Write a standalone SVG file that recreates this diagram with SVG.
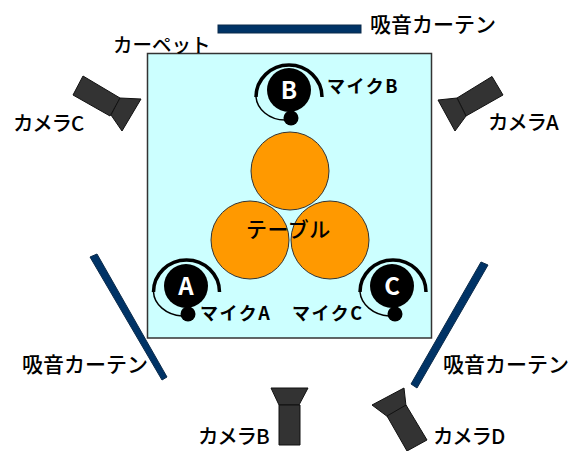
<svg xmlns="http://www.w3.org/2000/svg" width="568" height="451" viewBox="0 0 568 451">
<style>
text{font-family:"Noto Sans CJK JP","Noto Sans",sans-serif;fill:#000}
.l{font-size:21px;font-weight:500}
.c{font-size:19.500px;font-weight:500}
.k{font-size:20.500px;font-weight:500;letter-spacing:-1.200px}
.m{font-size:18px;font-weight:700;letter-spacing:1.500px}
.big{font-size:24px;font-weight:700;fill:#fff;text-anchor:middle}
.cam path{fill:#333;stroke:#111;stroke-width:1}
.cur{fill:#003366;stroke:#0a2a4a;stroke-width:1}
.tb{fill:#ff9900;stroke:#333;stroke-width:1}
.arc{fill:none;stroke:#000;stroke-width:3.500}
.arc2{fill:none;stroke:#000;stroke-width:1.500}
</style>
<g id="carpet"><rect x="147.500" y="53.500" width="284" height="284.500" fill="#ccffff" stroke="#333" stroke-width="1.500"/><text class="c" x="113" y="52">カーペット</text></g>
<g id="curtain-top"><rect class="cur" x="218" y="25" width="143" height="8"/><text class="l" x="370" y="32">吸音カーテン</text></g>
<g id="curtain-left"><polygon class="cur" points="90,257 97,254 167,377 162,380"/><text class="l" x="22" y="372">吸音カーテン</text></g>
<g id="curtain-right"><polygon class="cur" points="481,262 488,265 417,388 411,384"/><text class="l" x="443" y="372">吸音カーテン</text></g>
<g id="camera-a" class="cam"><path d="M457,98L492,76.500L503,95L466,116Z"/><path d="M438,100L457,98L466,116L455,131Z"/><text class="k" x="488" y="130">カメラA</text></g>
<g id="camera-b" class="cam"><path d="M271,388L308,388L299,405L279,405Z"/><path d="M279,405L300,405L300,445L279,445Z"/><text class="k" x="198" y="444">カメラB</text></g>
<g id="camera-c" class="cam"><path d="M83,76L120,98L110,116L73,95Z"/><path d="M120,98L141,99L122,131L111,115Z"/><text class="k" x="13" y="131">カメラC</text></g>
<g id="camera-d" class="cam"><path d="M372,405L404,388L406,406L388,417Z"/><path d="M387,416L406,405L427,440L407,451Z"/><text class="k" x="433" y="444">カメラD</text></g>
<g id="table"><circle class="tb" cx="290" cy="171" r="39"/><circle class="tb" cx="250" cy="240" r="39"/><circle class="tb" cx="330" cy="240" r="39"/><text class="l" x="246" y="237" style="letter-spacing:.5px">テーブル</text></g>
<g id="mic-a"><circle cx="186" cy="286" r="22"/><circle cx="188" cy="314" r="7.500"/><path class="arc" d="M219.500,292A33,32 0 0 0 153.500,292"/><path class="arc2" d="M153.500,292C154,304 166,315 182,316"/><text class="big" x="186" y="295">A</text><text class="m" x="200" y="320">マイクA</text></g>
<g id="mic-b"><circle cx="289" cy="90" r="22"/><circle cx="291" cy="118" r="7.500"/><path class="arc" d="M322,97A33,32 0 0 0 256,97"/><path class="arc2" d="M256,97C257,109 269,120 285,120"/><text class="big" x="289" y="99">B</text><text class="m" x="327" y="93">マイクB</text></g>
<g id="mic-c"><circle cx="392" cy="286" r="22"/><circle cx="395" cy="314" r="7.500"/><path class="arc" d="M426,292A33,32 0 0 0 360,292"/><path class="arc2" d="M360,292C361,304 373,315 389,316"/><text class="big" x="392" y="295">C</text><text class="m" x="292" y="320">マイクC</text></g>
<g id="connectors"></g>
</svg>
